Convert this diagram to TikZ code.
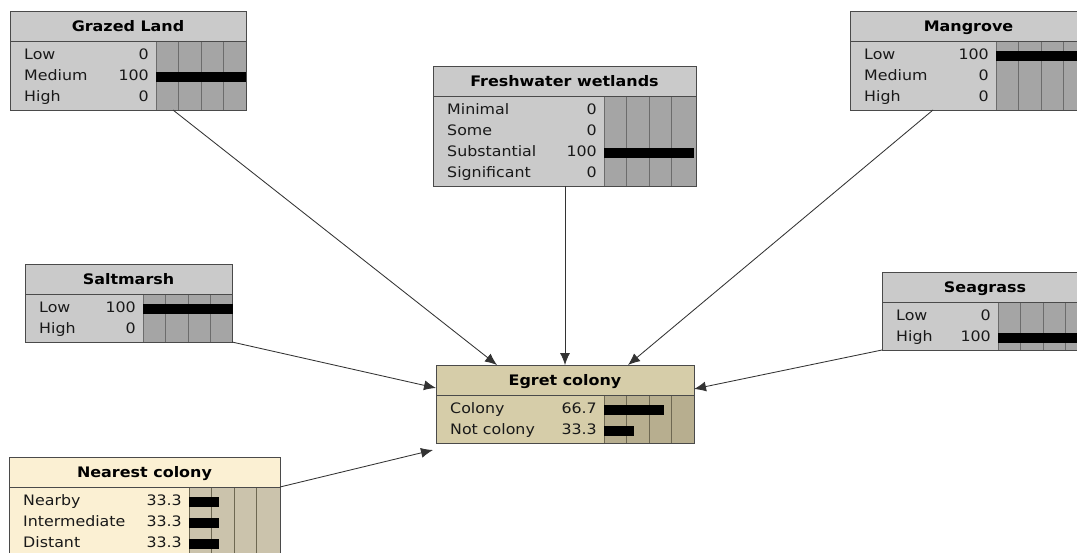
\documentclass[tikz,border=0pt]{standalone}
\usepackage{fontspec}
\newfontfamily\bnfont[FakeStretch=1.1]{DejaVu Sans}
\usetikzlibrary{arrows.meta,calc}

\definecolor{greyfill}{HTML}{CACACA}
\definecolor{greybar}{HTML}{A5A5A5}
\definecolor{greygrid}{HTML}{6C6C6C}
\definecolor{tanfill}{HTML}{D6CDA9}
\definecolor{tanbar}{HTML}{B7AE8F}
\definecolor{tangrid}{HTML}{6E6852}
\definecolor{creamfill}{HTML}{FBF0D3}
\definecolor{creambar}{HTML}{CBC3AC}
\definecolor{creamgrid}{HTML}{6E6852}
\definecolor{framec}{HTML}{4A4A4A}
\definecolor{wirec}{HTML}{333333}

% belief-network node: name, left, top, width, bar offset, rows, title, scheme
\newcommand\bnbox[8]{%
  \pgfmathsetmacro\bnH{36+21*#6}%
  \node[bnframe,fill=#8fill,minimum width=#4pt,minimum height=\bnH pt,anchor=north west] (#1) at (#2,#3) {};%
  \fill[#8bar] ([xshift=#5pt,yshift=-30pt]#1.north west) rectangle (#1.south east);%
  \foreach \k in {0,1,2,3}{%
    \draw[#8grid,line width=0.8pt] ([xshift=#5pt+\k*22.5pt,yshift=-30pt]#1.north west) -- ([xshift=#5pt+\k*22.5pt]#1.south west);}%
  \draw[framec,line width=0.9pt] ([yshift=-30pt]#1.north west) -- ([yshift=-30pt]#1.north east);%
  \draw[bnframe] (#1.north west) rectangle (#1.south east);%
  \node[bntitle,anchor=base] at ([yshift=-20.5pt]#1.north) {#7};%
}
% one state row: name, bar offset, row number, label, value, fraction
\newcommand\bnrow[6]{%
  \pgfmathsetmacro\bnY{-(43+21*(#3-1))}%
  \node[bntext,anchor=base west] at ([xshift=14pt,yshift=\bnY pt-5pt]#1.north west) {#4};%
  \node[bntext,anchor=base east] at ([xshift=#2pt-7pt,yshift=\bnY pt-5pt]#1.north west) {#5};%
  \ifdim#6pt>0pt
    \fill[black] ([xshift=#2pt,yshift=\bnY pt+3pt]#1.north west) rectangle ++(#6*90,9.5);%
  \fi
}

\begin{document}
\begin{tikzpicture}[x=1pt,y=-1pt,
  bnframe/.style={draw=framec,line width=0.9pt,inner sep=0pt,outer sep=0pt},
  bntitle/.style={font=\bnfont\bfseries\fontsize{14.5}{17}\selectfont,text=black,inner sep=0pt},
  bntext/.style={font=\bnfont\fontsize{14.4}{16}\selectfont,text=black!90,inner sep=0pt},
  wire/.style={draw=wirec,line width=0.85pt,-{Latex[length=12pt,width=10pt]}}]
\useasboundingbox (0,0) rectangle (1077,552);
\fill[white] (0,0) rectangle (1077,552);

\begin{scope}
\clip (0,0) rectangle (1077,552);

\bnbox{grazed}{10}{11}{236}{146}{3}{Grazed Land}{grey}
\bnrow{grazed}{146}{1}{Low}{0}{0}
\bnrow{grazed}{146}{2}{Medium}{100}{1}
\bnrow{grazed}{146}{3}{High}{0}{0}

\bnbox{fresh}{433}{66}{263}{171}{4}{Freshwater wetlands}{grey}
\bnrow{fresh}{171}{1}{Minimal}{0}{0}
\bnrow{fresh}{171}{2}{Some}{0}{0}
\bnrow{fresh}{171}{3}{Substantial}{100}{1}
\bnrow{fresh}{171}{4}{Significant}{0}{0}

\bnbox{mangrove}{850}{11}{237}{146}{3}{Mangrove}{grey}
\bnrow{mangrove}{146}{1}{Low}{100}{1}
\bnrow{mangrove}{146}{2}{Medium}{0}{0}
\bnrow{mangrove}{146}{3}{High}{0}{0}

\bnbox{salt}{25}{264}{207}{118}{2}{Saltmarsh}{grey}
\bnrow{salt}{118}{1}{Low}{100}{1}
\bnrow{salt}{118}{2}{High}{0}{0}

\bnbox{seagrass}{882}{272}{206}{116}{2}{Seagrass}{grey}
\bnrow{seagrass}{116}{1}{Low}{0}{0}
\bnrow{seagrass}{116}{2}{High}{100}{1}

\bnbox{egret}{436}{365}{258}{168}{2}{Egret colony}{tan}
\bnrow{egret}{168}{1}{Colony}{66.7}{0.667}
\bnrow{egret}{168}{2}{Not colony}{33.3}{0.333}

\bnbox{nearest}{9}{457}{271}{180}{3}{Nearest colony}{cream}
\bnrow{nearest}{180}{1}{Nearby}{33.3}{0.333}
\bnrow{nearest}{180}{2}{Intermediate}{33.3}{0.333}
\bnrow{nearest}{180}{3}{Distant}{33.3}{0.333}
\end{scope}

% influences on the egret colony
\draw[wire] ([xshift=163pt]grazed.south west) -- ([xshift=61pt]egret.north west);
\draw[wire] ([xshift=132pt]fresh.south west) -- ([xshift=129pt]egret.north west);
\draw[wire] ([xshift=83pt]mangrove.south west) -- ([xshift=192pt]egret.north west);
\draw[wire] (salt.south east) -- ([yshift=-23pt]egret.north west);
\draw[wire] (seagrass.south west) -- ([yshift=-24pt]egret.north east);
\draw[wire] ([yshift=-30pt]nearest.north east) -- ([xshift=-3pt,yshift=-85pt]egret.north west);
\end{tikzpicture}
\end{document}
